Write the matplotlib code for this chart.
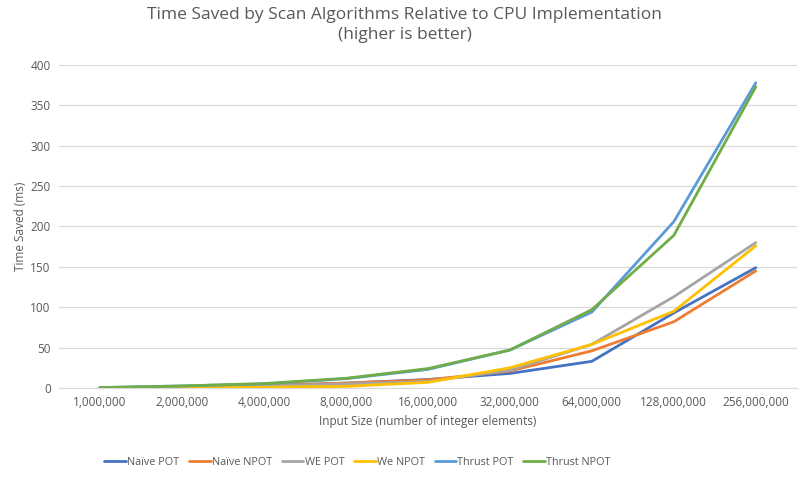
import numpy as np
import matplotlib.pyplot as plt

plt.rcParams['font.family'] = ['Open Sans', 'DejaVu Sans']

sizes = ['1,000,000', '2,000,000', '4,000,000', '8,000,000', '16,000,000',
         '32,000,000', '64,000,000', '128,000,000', '256,000,000']

naive_pot = [0.3, 1.0, 3.0, 6.0, 10.5, 18, 33, 93, 149]
naive_npot = [0.3, 1.0, 3.0, 6.0, 10.0, 21, 46, 82, 145]
we_pot = [0.3, 1.0, 2.5, 5.0, 8.0, 22, 54, 113, 180]
we_npot = [0.2, 0.5, 1.0, 2.0, 7.0, 25, 54, 95, 176]
thrust_pot = [0.5, 2.5, 5.0, 11.5, 23, 47, 94, 206, 378]
thrust_npot = [0.5, 2.5, 5.5, 12.0, 24, 47, 97, 189, 373]

series = [
    ('Naïve POT', naive_pot, '#4472C4'),
    ('Naïve NPOT', naive_npot, '#ED7D31'),
    ('WE POT', we_pot, '#A5A5A5'),
    ('We NPOT', we_npot, '#FFC000'),
    ('Thrust POT', thrust_pot, '#5B9BD5'),
    ('Thrust NPOT', thrust_npot, '#70AD47'),
]

txt = '#595959'
fig = plt.figure(figsize=(8.09, 4.8), dpi=100)
ax = fig.add_axes([0.0729, 0.1917, 0.912, 0.6729])

x = np.arange(len(sizes))
for name, vals, col in series:
    ax.plot(x, vals, color=col, lw=2.0, label=name, solid_capstyle='round')

ax.set_xlim(-0.5, len(sizes) - 0.5)
ax.set_ylim(0, 400)
ax.set_yticks(np.arange(0, 401, 50))
ax.set_xticks(x)
ax.set_xticklabels(sizes)
ax.grid(axis='y', color='#D9D9D9', lw=0.9)
ax.set_axisbelow(True)
for s in ['top', 'right', 'left']:
    ax.spines[s].set_visible(False)
ax.spines['bottom'].set_color('#D9D9D9')
ax.tick_params(length=0, colors=txt, labelsize=8.5, pad=6)

ax.set_xlabel('Input Size (number of integer elements)', color=txt, fontsize=8.5, labelpad=4)
ax.set_ylabel('Time Saved (ms)', color=txt, fontsize=8.5, labelpad=2)
fig.suptitle('Time Saved by Scan Algorithms Relative to CPU Implementation\n(higher is better)',
             color=txt, fontsize=12.5, y=0.985, linespacing=1.3)

fig.legend(loc='lower center', ncol=6, frameon=False, fontsize=7.8, labelcolor=txt,
           bbox_to_anchor=(0.442, 0.005), handlelength=2.0, handletextpad=0.1, columnspacing=0.9)

fig.savefig('out.png', dpi=100)
